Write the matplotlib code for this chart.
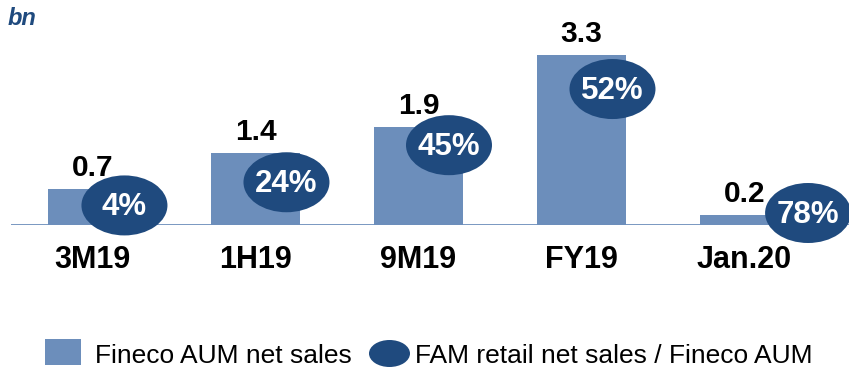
import matplotlib
matplotlib.use("Agg")
import matplotlib.pyplot as plt
from matplotlib.patches import Ellipse, Rectangle

plt.rcParams["font.family"] = ["Liberation Sans", "DejaVu Sans"]

# Data
periods = ["3M19", "1H19", "9M19", "FY19", "Jan.20"]
aum_net_sales = [0.7, 1.4, 1.9, 3.3, 0.2]          # bn
fam_share = ["4%", "24%", "45%", "52%", "78%"]      # FAM retail net sales / Fineco AUM

# Bubble placement (data units, relative to each bar)
bubble_dx = [0.196, 0.19, 0.187, 0.19, 0.39]
bubble_y = [0.38, 0.83, 1.55, 2.64, 0.233]

BAR = "#6C8EBB"
DARK = "#1F4A7E"

W, H = 849, 368
fig = plt.figure(figsize=(W / 100, H / 100), dpi=100)

# Main axes in pixel layout: baseline at y=225 px from top, 51.5 px per bn
ax_left, ax_right = 11, 849
ax_bottom = H - 225
ax_height = 4 * 51.5
ax = fig.add_axes([ax_left / W, ax_bottom / H, (ax_right - ax_left) / W, ax_height / H])

x = list(range(len(periods)))
bars = ax.bar(x, aum_net_sales, width=0.546, color=BAR, zorder=2)
ax.axhline(0, color=BAR, lw=2.0, zorder=1.5)

ax.set_xlim(-0.5, 4.641)
ax.set_ylim(0, 4)
for s in ax.spines.values():
    s.set_visible(False)
ax.set_yticks([])
ax.set_xticks(x)
ax.set_xticklabels(periods, fontsize=22, fontweight="bold")
ax.tick_params(axis="x", length=0, pad=14.4)

ax.bar_label(bars, fmt="%.1f", padding=5, fontsize=21.5, fontweight="bold", color="black")

bw, bh = 86 / 163, 60 / 51.5
for xi, dx, yc, lab in zip(x, bubble_dx, bubble_y, fam_share):
    e = Ellipse((xi + dx, yc), bw, bh, facecolor=DARK, edgecolor="none", zorder=3, clip_on=False)
    ax.add_patch(e)
    ax.text(xi + dx, yc - 0.03, lab, ha="center", va="center", color="white",
            fontsize=22.5, fontweight="bold", zorder=4)

# Overlay in pixel coordinates for unit label and legend
ov = fig.add_axes([0, 0, 1, 1], zorder=5)
ov.set_xlim(0, W)
ov.set_ylim(H, 0)
ov.axis("off")
ov.patch.set_alpha(0)

ov.text(8, 25, "bn", fontsize=17, fontweight="bold", fontstyle="italic",
        color=DARK, ha="left", va="baseline")

ov.add_patch(Rectangle((45, 339), 36, 26, facecolor=BAR, edgecolor="none"))
ov.text(95, 363, "Fineco AUM net sales", fontsize=19, ha="left", va="baseline")
ov.add_patch(Ellipse((389.5, 353.5), 41, 27, facecolor=DARK, edgecolor="none"))
ov.text(415, 363, "FAM retail net sales / Fineco AUM", fontsize=19, ha="left", va="baseline")

fig.savefig("out.png", dpi=100)
